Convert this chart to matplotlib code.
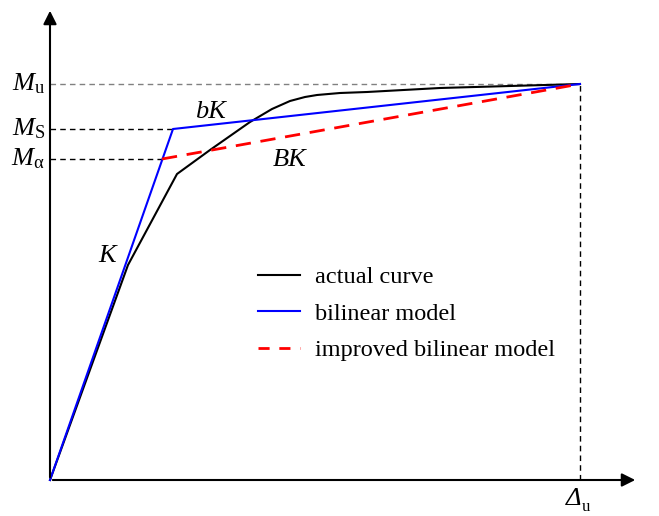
import matplotlib
matplotlib.use("Agg")
import matplotlib.pyplot as plt
from matplotlib.lines import Line2D

plt.rcParams['font.family'] = 'Liberation Serif'
plt.rcParams['mathtext.fontset'] = 'custom'
plt.rcParams['mathtext.rm'] = 'Liberation Serif'
plt.rcParams['mathtext.it'] = 'Liberation Serif:italic'

# curve values (displacement, moment), arbitrary units
actual_x = [0, 78, 127, 160, 200, 222, 240, 255, 267, 290, 317, 390, 530]
actual_y = [0, 215, 306, 330, 358, 371, 379, 383, 385, 387, 388, 392, 396]
bilinear_x = [0, 123, 530]
bilinear_y = [0, 351, 396]
improved_x = [112, 530]
improved_y = [321, 396]

Mu, Ms, Ma = 396, 351, 321
Du = 530

fig = plt.figure(figsize=(6.59, 5.16), dpi=100)
ax = fig.add_axes([0, 0, 1, 1])
ax.set_xlim(-50, 609)
ax.set_ylim(-36, 480)
ax.axis('off')

# axes with arrows
ax.annotate('', xy=(588, 0), xytext=(0, 0),
            arrowprops=dict(arrowstyle='-|>', color='black', lw=1.5, mutation_scale=20))
ax.annotate('', xy=(0, 472), xytext=(0, 0),
            arrowprops=dict(arrowstyle='-|>', color='black', lw=1.5, mutation_scale=20))

# guide lines
ax.plot([0, Du], [Mu, Mu], color='gray', ls=(0, (4, 3)), lw=1)
ax.plot([0, bilinear_x[1]], [Ms, Ms], color='black', ls=(0, (4, 3)), lw=1)
ax.plot([0, improved_x[0]], [Ma, Ma], color='black', ls=(0, (4, 3)), lw=1)
ax.plot([Du, Du], [0, Mu], color='black', ls=(0, (4, 3)), lw=1)

ax.plot(actual_x, actual_y, color='black', lw=1.5)
ax.plot(bilinear_x, bilinear_y, color='blue', lw=1.5)
ax.plot(improved_x, improved_y, color='red', lw=2, ls=(0, (5.5, 3.5)))

fs = 19
ax.text(-5, Mu, r'$M_{\mathrm{u}}$', fontsize=fs, ha='right', va='center')
ax.text(-5, Ms, r'$M_{\mathrm{S}}$', fontsize=fs, ha='right', va='center')
ax.text(-5, Ma, r'$M_{\mathrm{\alpha}}$', fontsize=fs, ha='right', va='center')
ax.text(Du + 1, -8, 'Δ', fontsize=fs, style='italic', ha='right', va='top')
ax.text(Du + 2, -19, 'u', fontsize=12, ha='left', va='top')

ax.text(57, 224, 'K', fontsize=fs, style='italic', ha='center', va='center')
ax.text(160, 368, 'bK', fontsize=fs, style='italic', ha='center', va='center')
ax.text(240, 320, 'BK', fontsize=fs, style='italic', ha='center', va='center')

handles = [Line2D([], [], color='black', lw=1.5),
           Line2D([], [], color='blue', lw=1.5),
           Line2D([], [], color='red', lw=2, ls=(0, (4, 3.5)))]
labels = ['actual curve', 'bilinear model', 'improved bilinear model']
ax.legend(handles, labels, loc='upper left', bbox_to_anchor=(0.3915, 0.484),
          frameon=False, fontsize=17.5, handlelength=1.73, handletextpad=0.62,
          labelspacing=0.6, borderpad=0, borderaxespad=0)

fig.savefig('out.png', dpi=100)
